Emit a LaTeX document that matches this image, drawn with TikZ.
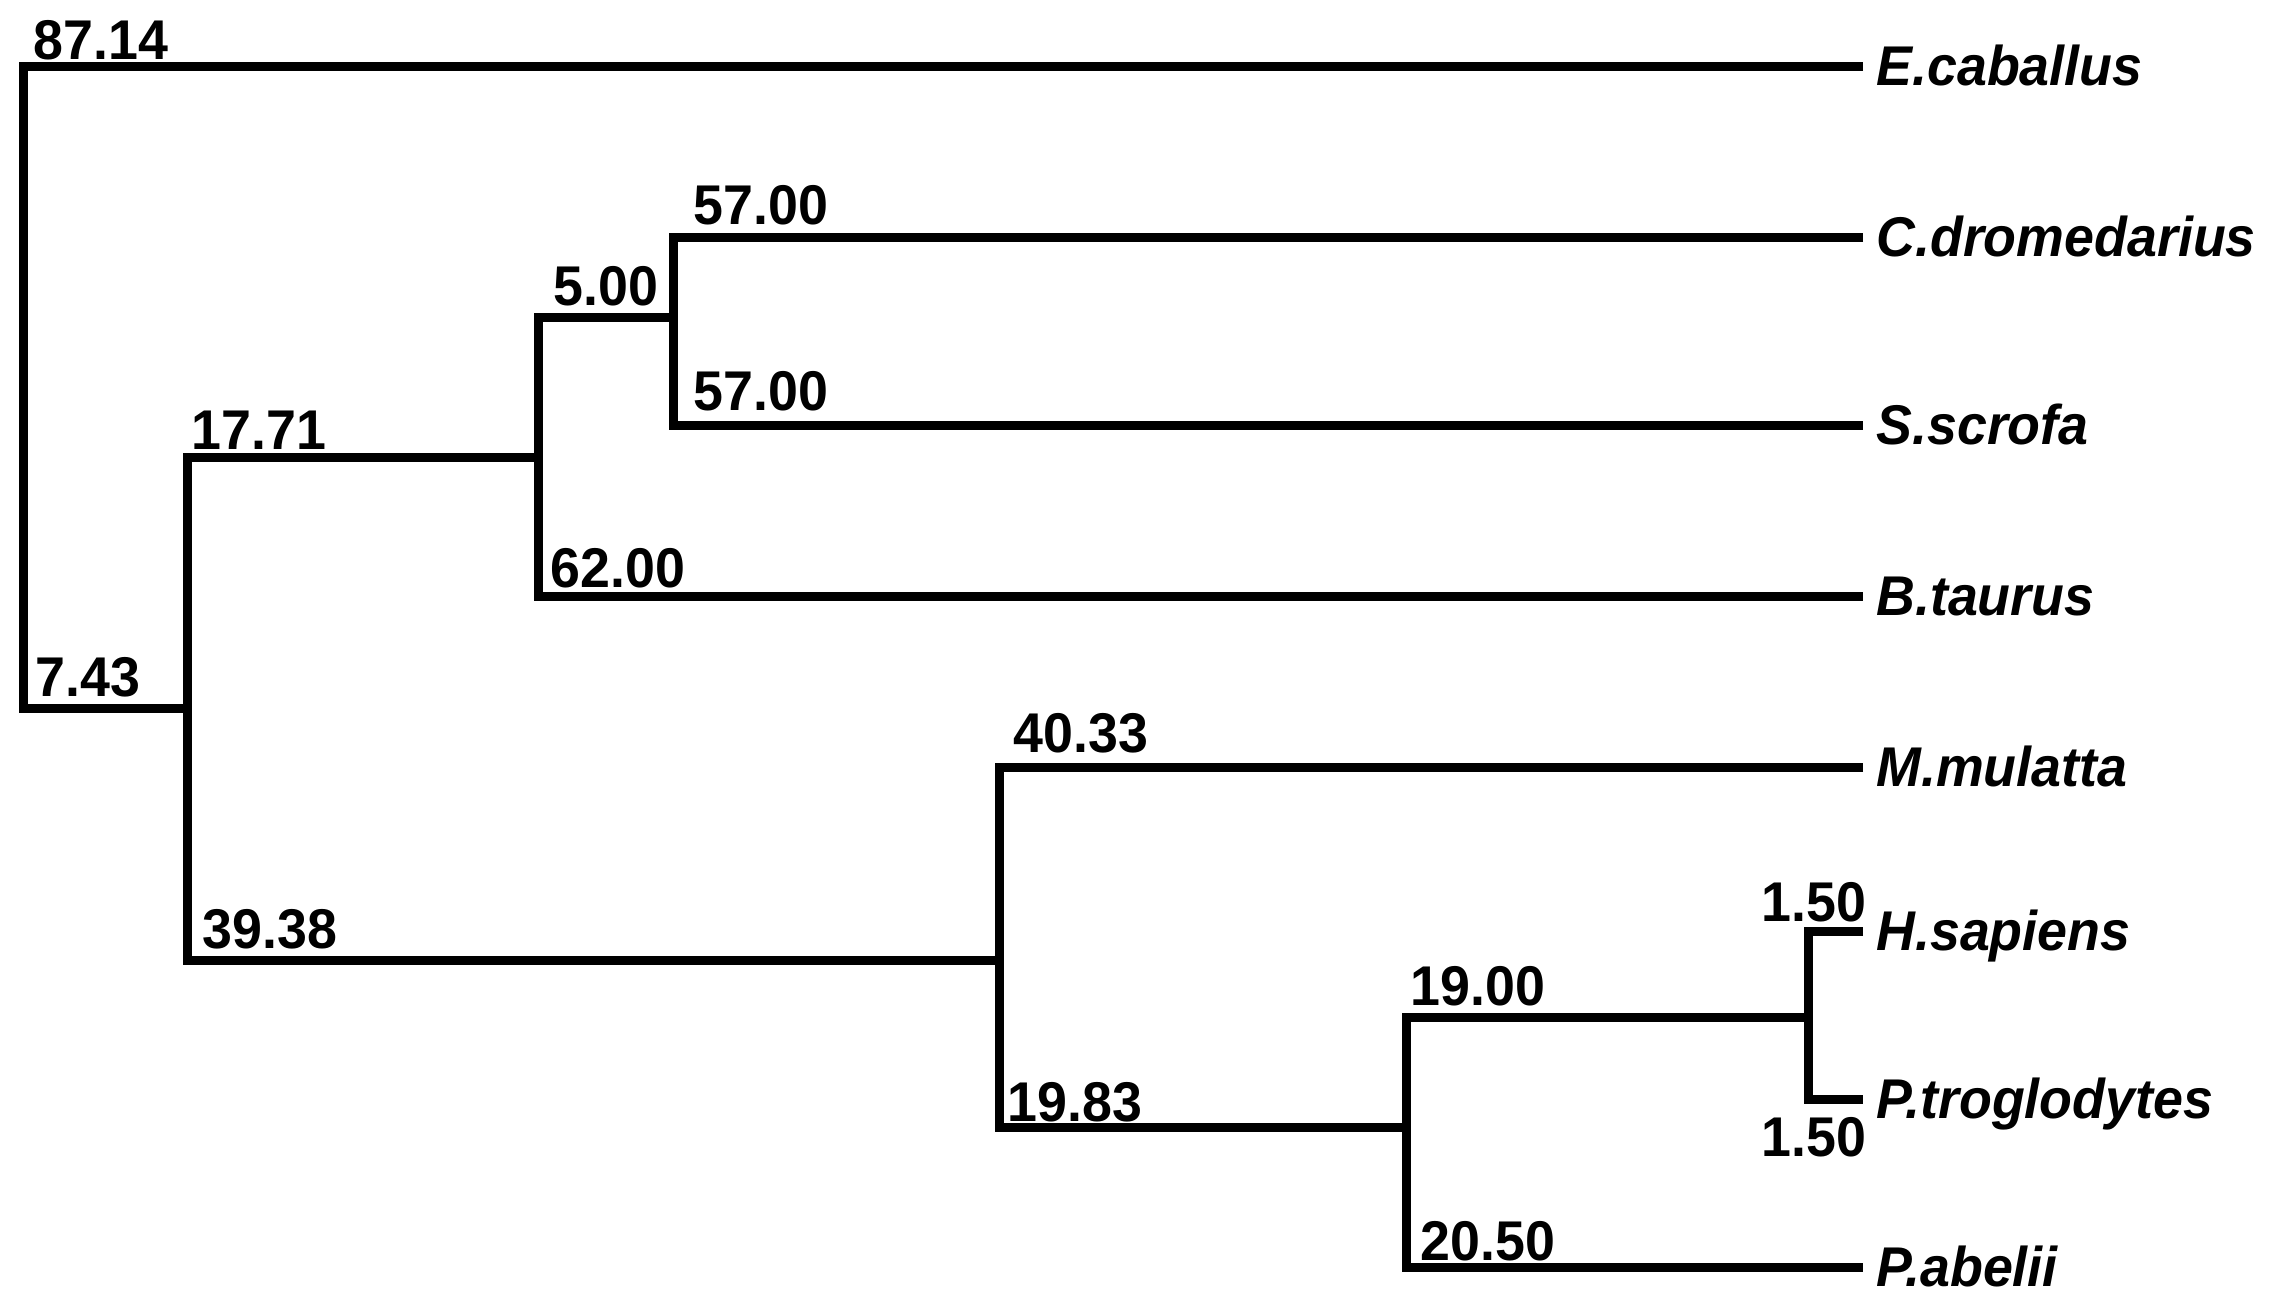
\documentclass[tikz,border=0pt]{standalone}
\usepackage{fontspec}
\usepackage{graphicx}
\setmainfont{Liberation Sans}
\newcommand\narrowtxt[1]{\scalebox{0.96}[1]{#1}}
\begin{document}
\begin{tikzpicture}[x=0.5pt,y=-0.5pt,
  branch/.style={line width=4.5pt,line join=miter},
  blen/.style={font=\fontsize{28pt}{30pt}\selectfont\bfseries,inner sep=0pt,anchor=base west},
  blenr/.style={font=\fontsize{28pt}{30pt}\selectfont\bfseries,inner sep=0pt,anchor=base east},
  taxon/.style={font=\fontsize{28pt}{30pt}\selectfont\bfseries\itshape,inner sep=0pt,anchor=base west}]
\useasboundingbox (0,0) rectangle (2278,1309);
% internal nodes
\coordinate (R) at (23,387);
\coordinate (A) at (187,708);
\coordinate (B) at (538,458);
\coordinate (C) at (673,318);
\coordinate (D) at (999,960);
\coordinate (E) at (1406,1127);
\coordinate (F) at (1808,1017);
% leaves
\coordinate (ec) at (1863,67);
\coordinate (cd) at (1863,238);
\coordinate (ss) at (1863,426);
\coordinate (bt) at (1863,596);
\coordinate (mm) at (1863,767);
\coordinate (hs) at (1863,931);
\coordinate (pt) at (1863,1099);
\coordinate (pa) at (1863,1267);
% branches
\draw[branch] (ec) -| (R) |- (A);
\draw[branch] (B) -| (A) |- (D);
\draw[branch] (C) -| (B) |- (bt);
\draw[branch] (cd) -| (C) |- (ss);
\draw[branch] (mm) -| (D) |- (E);
\draw[branch] (F) -| (E) |- (pa);
\draw[branch] (hs) -| (F) |- (pt);
% taxon labels
\node[taxon] (tec) at (1876,86) {\narrowtxt{E.caballus}};
\node[taxon] (tcd) at (1876,257) {\narrowtxt{C.dromedarius}};
\node[taxon] (tss) at (1876,445) {\narrowtxt{S.scrofa}};
\node[taxon] (tbt) at (1876,615) {\narrowtxt{B.taurus}};
\node[taxon] (tmm) at (1876,786) {\narrowtxt{M.mulatta}};
\node[taxon] (ths) at (1876,950) {\narrowtxt{H.sapiens}};
\node[taxon] (tpt) at (1876,1118) {\narrowtxt{P.troglodytes}};
\node[taxon] (tpa) at (1876,1286) {\narrowtxt{P.abelii}};
% branch lengths
\node[blen] (l1) at (33,60) {\narrowtxt{87.14}};
\node[blen] (l2) at (35,696) {\narrowtxt{7.43}};
\node[blen] (l3) at (191,450) {\narrowtxt{17.71}};
\node[blen] (l4) at (553,306) {\narrowtxt{5.00}};
\node[blen] (l5) at (693,225) {\narrowtxt{57.00}};
\node[blen] (l6) at (693,411) {\narrowtxt{57.00}};
\node[blen] (l7) at (550,588) {\narrowtxt{62.00}};
\node[blen] (l8) at (202,948) {\narrowtxt{39.38}};
\node[blen] (l9) at (1013,752) {\narrowtxt{40.33}};
\node[blen] (l10) at (1007,1121) {\narrowtxt{19.83}};
\node[blen] (l11) at (1410,1005) {\narrowtxt{19.00}};
\node[blen] (l12) at (1420,1260) {\narrowtxt{20.50}};
\node[blenr] (l13) at (1867,921) {\narrowtxt{1.50}};
\node[blenr] (l14) at (1867,1156) {\narrowtxt{1.50}};
\end{tikzpicture}
\end{document}
